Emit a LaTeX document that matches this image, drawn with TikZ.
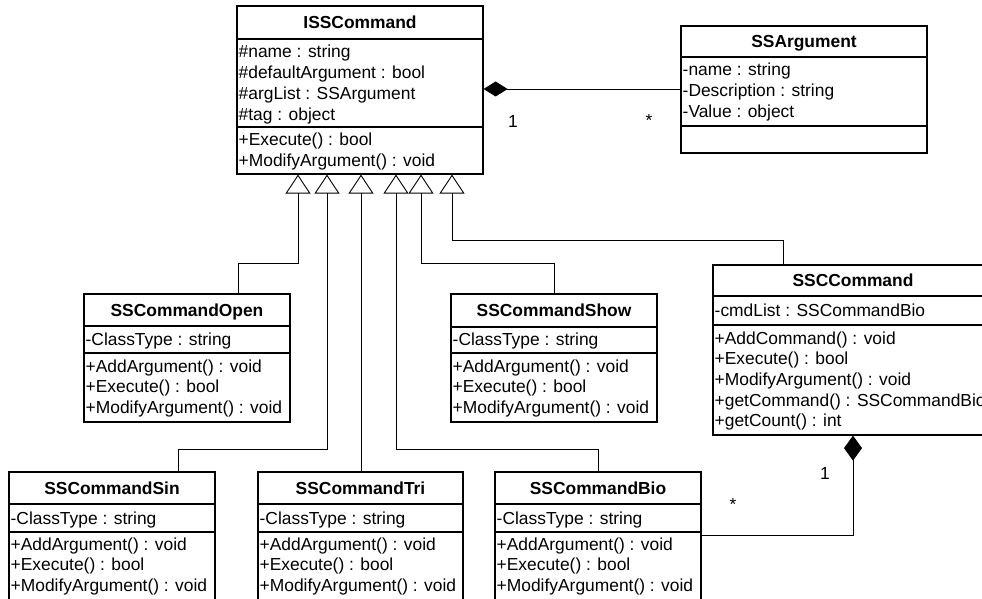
\documentclass[tikz,border=0pt]{standalone}
\usepackage{fontspec}
\setmainfont{Liberation Sans}
\usetikzlibrary{arrows.meta}
\tikzset{
  clsbox/.style={draw, line width=1.2pt, inner sep=0pt, rectangle},
  clsdiv/.style={line width=1.2pt},
  mtxt/.style={anchor=base west, inner sep=0pt, font=\fontsize{17.4}{20}\selectfont},
  ttxt/.style={anchor=base, inner sep=0pt, font=\fontsize{17.4}{20}\selectfont\bfseries},
  mult/.style={anchor=base, inner sep=0pt, font=\fontsize{17.4}{20}\selectfont},
  inherit/.style={draw, line width=0.9pt, -{Triangle[open, length=19pt, width=25pt, line width=0.9pt]}},
  compose/.style={draw, line width=0.9pt, -{Diamond[length=24pt, width=15pt]}},
  composev/.style={draw, line width=0.9pt, -{Diamond[length=25pt, width=18pt]}},
}
% name L R T D1 D2 B title
\newcommand\umlclass[8]{%
  \node[clsbox, minimum width={(#3)-(#2)}, minimum height={(#7)-(#4)}] (#1) at ({((#2)+(#3))/2},{((#4)+(#7))/2}) {};
  \draw[clsdiv] (#2,#5) -- (#3,#5) (#2,#6) -- (#3,#6);
  \node[ttxt] (#1-t) at ({((#2)+(#3))/2},{((#4)+(#5))/2+6}) {#8};
}
\newcommand\umlmem[4]{\node[mtxt] (#1) at (#2,#3) {#4};}
\begin{document}
\begin{tikzpicture}[x=1pt,y=-1pt]
\useasboundingbox (0,0) rectangle (982,599);
\clip (0,0) rectangle (982,599);

% ISSCommand
\umlclass{iss}{237}{483}{6}{39}{127}{174}{ISSCommand}
\umlmem{iss-a1}{238.5}{58}{\#name : string}
\umlmem{iss-a2}{238.5}{78.7}{\#defaultArgument : bool}
\umlmem{iss-a3}{238.5}{99.4}{\#argList : SSArgument}
\umlmem{iss-a4}{238.5}{120.1}{\#tag : object}
\umlmem{iss-m1}{238.5}{146}{+Execute() : bool}
\umlmem{iss-m2}{238.5}{166.7}{+ModifyArgument() : void}

% SSArgument
\umlclass{arg}{681}{927}{26}{57}{126}{153}{SSArgument}
\umlmem{arg-a1}{682.5}{76}{-name : string}
\umlmem{arg-a2}{682.5}{96.7}{-Description : string}
\umlmem{arg-a3}{682.5}{117.4}{-Value : object}

% SSCommandOpen
\umlclass{open}{84}{290}{294}{326}{353}{422}{SSCommandOpen}
\umlmem{open-a1}{85.5}{345.5}{-ClassType : string}
\umlmem{open-m1}{85.5}{372}{+AddArgument() : void}
\umlmem{open-m2}{85.5}{392.7}{+Execute() : bool}
\umlmem{open-m3}{85.5}{413.4}{+ModifyArgument() : void}

% SSCommandShow
\umlclass{show}{451}{657}{294}{327}{353}{422}{SSCommandShow}
\umlmem{show-a1}{452.5}{345.5}{-ClassType : string}
\umlmem{show-m1}{452.5}{372}{+AddArgument() : void}
\umlmem{show-m2}{452.5}{392.7}{+Execute() : bool}
\umlmem{show-m3}{452.5}{413.4}{+ModifyArgument() : void}

% SSCCommand
\umlclass{ssc}{713}{993}{265}{296}{325}{435}{SSCCommand}
\umlmem{ssc-a1}{714.5}{316}{-cmdList : SSCommandBio}
\umlmem{ssc-m1}{714.5}{344}{+AddCommand() : void}
\umlmem{ssc-m2}{714.5}{364.7}{+Execute() : bool}
\umlmem{ssc-m3}{714.5}{385.4}{+ModifyArgument() : void}
\umlmem{ssc-m4}{714.5}{406.1}{+getCommand() : SSCommandBio}
\umlmem{ssc-m5}{714.5}{426.8}{+getCount() : int}

% SSCommandSin
\umlclass{sin}{9}{215}{472}{504}{532}{601}{SSCommandSin}
\umlmem{sin-a1}{10.5}{524}{-ClassType : string}
\umlmem{sin-m1}{10.5}{550}{+AddArgument() : void}
\umlmem{sin-m2}{10.5}{570.7}{+Execute() : bool}
\umlmem{sin-m3}{10.5}{591.4}{+ModifyArgument() : void}

% SSCommandTri
\umlclass{tri}{258}{463}{472}{504}{532}{601}{SSCommandTri}
\umlmem{tri-a1}{259.5}{524}{-ClassType : string}
\umlmem{tri-m1}{259.5}{550}{+AddArgument() : void}
\umlmem{tri-m2}{259.5}{570.7}{+Execute() : bool}
\umlmem{tri-m3}{259.5}{591.4}{+ModifyArgument() : void}

% SSCommandBio
\umlclass{bio}{495}{701}{472}{504}{532}{601}{SSCommandBio}
\umlmem{bio-a1}{496.5}{524}{-ClassType : string}
\umlmem{bio-m1}{496.5}{550}{+AddArgument() : void}
\umlmem{bio-m2}{496.5}{570.7}{+Execute() : bool}
\umlmem{bio-m3}{496.5}{591.4}{+ModifyArgument() : void}

% generalisations
\draw[inherit] (open.north -| 238,0) |- (298,263) -- (iss.south -| 298,0);
\draw[inherit] (sin.north -| 178,0) |- (327,449) -- (iss.south -| 327,0);
\draw[inherit] (tri.north -| 361,0) -- (iss.south -| 361,0);
\draw[inherit] (bio.north -| 598,0) |- (396,449) -- (iss.south -| 396,0);
\draw[inherit] (show.north -| 554,0) |- (421,263) -- (iss.south -| 421,0);
\draw[inherit] (ssc.north -| 783,0) |- (452,240) -- (iss.south -| 452,0);

% compositions
\draw[compose] (arg.west |- 0,89) -- (iss.east |- 0,89);
\draw[composev] (bio.east |- 0,535) -| (ssc.south);

% multiplicities
\node[mult] (m1) at (513,128) {1};
\node[mult] (m2) at (649,127) {*};
\node[mult] (m3) at (825,479) {1};
\node[mult] (m4) at (733,510) {*};
\end{tikzpicture}
\end{document}
